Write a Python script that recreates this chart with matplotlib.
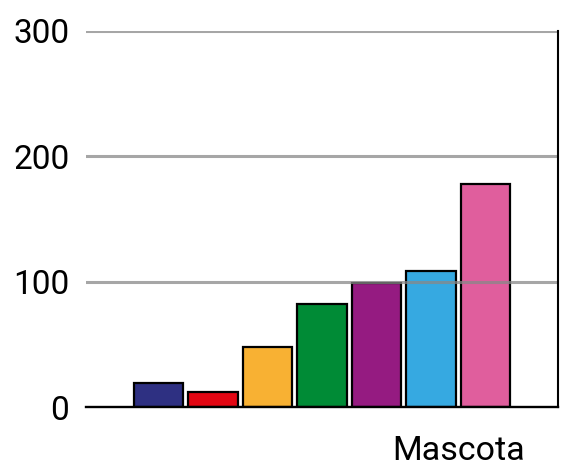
import matplotlib
matplotlib.use("Agg")
import matplotlib.pyplot as plt

series = ["S1", "S2", "S3", "S4", "S5", "S6", "S7"]
values = [19, 12, 48, 82, 99, 108, 178]
colors = ["#2E3082", "#E30613", "#F8B133", "#008B36", "#951B81", "#36A9E1", "#E05E9D"]
category = "Mascota"
yticks = [0, 100, 200, 300]

plt.rcParams['font.family'] = ['Roboto', 'DejaVu Sans']

fig = plt.figure(figsize=(5.63, 4.68), dpi=100)
ax = fig.add_axes([0.1528, 0.1303, 0.9911 - 0.1528, 0.9348 - 0.1303])

x = list(range(len(values)))
ax.bar(x, values, width=0.9, color=colors, edgecolor="black", linewidth=1.6, zorder=2)

ax.set_xlim(-1.33, 7.33)
ax.set_ylim(0, 300)
ax.set_yticks(yticks)
ax.set_yticklabels([str(v) for v in yticks], fontsize=24)
ax.tick_params(axis='y', length=0, pad=12)

for v in yticks[1:]:
    ax.axhline(v, color="#888888", alpha=0.75, linewidth=2.2, zorder=3)

ax.set_xticks([5.5])
ax.set_xticklabels([category], fontsize=24.5)
ax.tick_params(axis='x', length=0, pad=20)

ax.spines['top'].set_visible(False)
ax.spines['left'].set_visible(False)
ax.spines['right'].set_linewidth(1.5)
ax.spines['bottom'].set_linewidth(1.7)
ax.spines['right'].set_zorder(4)
ax.spines['bottom'].set_zorder(4)

fig.savefig("out.png", dpi=100)
